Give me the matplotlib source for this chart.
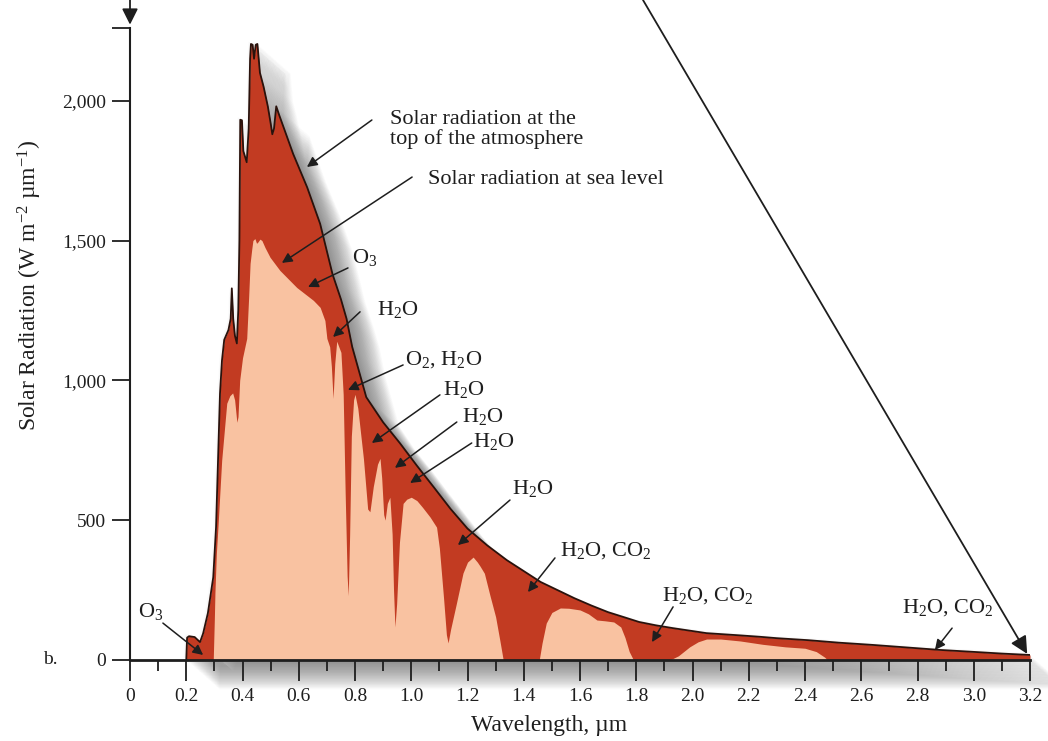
import numpy as np
import matplotlib
matplotlib.use('Agg')
import matplotlib.pyplot as plt
from matplotlib.transforms import ScaledTranslation

plt.rcParams['font.family'] = ['Liberation Serif', 'DejaVu Serif']
plt.rcParams['mathtext.fontset'] = 'custom'
plt.rcParams['mathtext.rm'] = 'Liberation Serif'
plt.rcParams['mathtext.it'] = 'Liberation Serif:italic'
plt.rcParams['mathtext.bf'] = 'Liberation Serif:bold'

# ---------------- data ----------------
wl_toa = [0.20, 0.203, 0.21, 0.23, 0.249, 0.26, 0.277, 0.296, 0.306, 0.313, 0.32,
          0.327, 0.335, 0.35, 0.358, 0.362, 0.367, 0.373, 0.38, 0.385, 0.389,
          0.392, 0.398, 0.403, 0.415, 0.422, 0.427, 0.43, 0.436, 0.441, 0.447,
          0.453, 0.462, 0.475, 0.49, 0.50, 0.506, 0.512, 0.52, 0.53, 0.58, 0.63,
          0.676, 0.72, 0.75, 0.77, 0.79, 0.84, 0.90, 0.96, 1.02, 1.08, 1.14,
          1.20, 1.27, 1.34, 1.40, 1.46, 1.52, 1.58, 1.64, 1.70, 1.76, 1.81,
          1.87, 1.93, 2.05, 2.17, 2.24, 2.30, 2.41, 2.52, 2.64, 2.76, 2.88,
          3.00, 3.10, 3.20]
toa = [0, 80, 85, 82, 64, 95, 168, 296, 476, 714, 953,
       1071, 1145, 1180, 1220, 1329, 1220, 1160, 1132, 1250, 1500,
       1932, 1930, 1820, 1780, 1900, 2150, 2203, 2200, 2150, 2200,
       2203, 2100, 2050, 1980, 1920, 1880, 1900, 1980, 1950, 1810, 1690,
       1560, 1380, 1290, 1220, 1120, 940, 850, 775, 695, 618, 540,
       470, 410, 357, 318, 279, 250, 221, 195, 171, 152, 136,
       124, 114, 96, 88, 83, 78, 71, 62, 54, 45, 36,
       29, 23, 18]

wl_sea = [0.296, 0.30, 0.302, 0.307, 0.313, 0.326, 0.344, 0.355, 0.365, 0.372,
          0.38, 0.384, 0.39, 0.40, 0.415, 0.422, 0.427, 0.433, 0.437, 0.444,
          0.45, 0.455, 0.462, 0.469, 0.48, 0.498, 0.533, 0.593, 0.652, 0.676,
          0.693, 0.70, 0.71, 0.716, 0.722, 0.728, 0.735, 0.75, 0.758, 0.765,
          0.772, 0.776, 0.781, 0.787, 0.795, 0.80, 0.81, 0.83, 0.845, 0.853,
          0.865, 0.88, 0.889, 0.895, 0.902, 0.907, 0.915, 0.924, 0.932, 0.937,
          0.942, 0.948, 0.958, 0.971, 0.984, 1.00, 1.02, 1.04, 1.067, 1.09,
          1.10, 1.115, 1.125, 1.131, 1.14, 1.16, 1.184, 1.20, 1.22, 1.235,
          1.245, 1.26, 1.28, 1.30, 1.315, 1.327, 1.455, 1.465, 1.48, 1.50,
          1.53, 1.56, 1.60, 1.63, 1.66, 1.69, 1.72, 1.745, 1.76, 1.775,
          1.79, 1.92, 1.95, 1.99, 2.02, 2.05, 2.10, 2.17, 2.25, 2.33,
          2.40, 2.44, 2.47, 2.48]
sea = [0, 150, 240, 380, 480, 714, 918, 945, 955, 930,
       850, 870, 1000, 1080, 1150, 1300, 1418, 1470, 1500, 1507,
       1490, 1495, 1505, 1500, 1475, 1440, 1393, 1332, 1286, 1261,
       1214, 1150, 1120, 1050, 935, 1060, 1140, 1100, 950, 600,
       300, 230, 450, 800, 930, 950, 900, 720, 540, 530,
       620, 700, 721, 650, 520, 500, 560, 582, 450, 250,
       118, 200, 420, 560, 575, 582, 570, 546, 511, 475,
       400, 220, 90, 61, 110, 200, 311, 350, 368, 350,
       335, 310, 230, 154, 70, 0, 0, 60, 132, 170,
       186, 185, 179, 165, 143, 140, 136, 118, 80, 30,
       0, 0, 15, 47, 65, 75, 75, 68, 56, 47,
       42, 30, 10, 0]

xticks_major = [0, 0.2, 0.4, 0.6, 0.8, 1.0, 1.2, 1.4, 1.6, 1.8, 2.0, 2.2, 2.4,
                2.6, 2.8, 3.0, 3.2]
xtick_labels = ['0', '0.2', '0.4', '0.6', '0.8', '1.0', '1.2', '1.4', '1.6', '1.8',
                '2.0', '2.2', '2.4', '2.6', '2.8', '3.0', '3.2']
xticks_minor = [0.1, 0.3, 0.5, 0.7, 0.9, 1.1, 1.3, 1.5, 1.7, 1.9, 2.1, 2.3, 2.5,
                2.7, 2.9, 3.1]
yticks = [0, 500, 1000, 1500, 2000, 2260]
ytick_labels = ['0', '500', '1,000', '1,500', '2,000', '']

labels = ['Solar radiation at the\ntop of the atmosphere',
          'Solar radiation at sea level',
          r'O$_3$', r'H$_2$O', r'O$_2$, H$_2$O', r'H$_2$O', r'H$_2$O', r'H$_2$O',
          r'H$_2$O', r'H$_2$O, CO$_2$', r'H$_2$O, CO$_2$', r'H$_2$O, CO$_2$',
          r'O$_3$']

# ---------------- layout ----------------
text_pos = [(0.924, 1897), (1.06, 1717), (0.79, 1438), (0.878, 1252),
            (0.978, 1073), (1.113, 966), (1.18, 869), (1.22, 780),
            (1.358, 615), (1.529, 393), (1.892, 232), (2.745, 186), (0.03, 172)]
arrow_from = [(0.86, 1931), (1.003, 1727), (0.775, 1402), (0.818, 1245),
              (0.971, 1055), (1.102, 948), (1.162, 851), (1.215, 776),
              (1.351, 572), (1.511, 365), (1.931, 190), (2.923, 114), (0.117, 132)]
arrow_to = [(0.629, 1763), (0.54, 1420), (0.633, 1334), (0.722, 1155),
            (0.775, 966), (0.86, 776), (0.942, 687), (0.996, 633),
            (1.166, 411), (1.415, 243), (1.856, 64), (2.862, 36), (0.26, 18)]

DARK = '#C23B22'
PEACH = '#F9C2A1'
INK = '#1e1e1e'

W, H = 1048, 741
fig = plt.figure(figsize=(W / 100, H / 100), dpi=100)
ax = fig.add_axes([130 / W, (H - 660) / H, 900 / W, 632 / H])
ax.set_xlim(0, 3.2)
ax.set_ylim(0, 2260)

# soft drop shadow of the top-of-atmosphere shape
sx = np.concatenate([[0.0], wl_toa, [3.2]])
sy = np.concatenate([[0.0], toa, [0.0]])
for k in range(-3, 40):
    off = ScaledTranslation(k * 0.85 / 100, -k * 0.75 / 100, fig.dpi_scale_trans)
    ax.fill(sx, sy, color='#5a5a5a', alpha=0.024, lw=0,
            transform=ax.transData + off, zorder=1, clip_on=False)

ax.fill_between(wl_toa, toa, 0, color=DARK, lw=0, zorder=2)
ax.fill_between(wl_sea, sea, 0, color=PEACH, lw=0, zorder=3)
ax.plot(wl_toa, toa, color='#2a120c', lw=1.3, zorder=4, solid_joinstyle='round')

for s in ['top', 'right']:
    ax.spines[s].set_visible(False)
for s in ['left', 'bottom']:
    ax.spines[s].set_color(INK)
    ax.spines[s].set_zorder(6)
ax.spines['left'].set_linewidth(1.5)
ax.spines['bottom'].set_linewidth(2.0)

ax.set_xticks(xticks_major)
ax.set_xticklabels(xtick_labels)
ax.set_xticks(xticks_minor, minor=True)
ax.set_yticks(yticks)
ax.set_yticklabels(ytick_labels)
ax.tick_params(axis='x', which='major', direction='out', length=15, width=1.3,
               colors=INK, labelsize=14, pad=5)
ax.tick_params(axis='x', which='minor', direction='out', length=8, width=1.3,
               colors=INK)
ax.tick_params(axis='y', which='major', direction='out', length=13, width=1.3,
               colors=INK, labelsize=14, pad=4)

# annotations
for lab, tp, a0, a1 in zip(labels, text_pos, arrow_from, arrow_to):
    ax.text(tp[0], tp[1], lab, fontsize=16, color=INK, ha='left', va='center',
            linespacing=1.0, zorder=7)
    ax.annotate('', xy=a1, xytext=a0,
                arrowprops=dict(arrowstyle='-|>', color=INK, lw=1.1,
                                mutation_scale=15, shrinkA=0, shrinkB=0),
                zorder=7)

# arrows coming from outside the panel
ax.annotate('', xy=(3.19, 22), xytext=(1.824, 2360), annotation_clip=False,
            arrowprops=dict(arrowstyle='-|>', color=INK, lw=1.3,
                            mutation_scale=26, shrinkA=0, shrinkB=0))
ax.annotate('', xy=(0, 2272), xytext=(0, 2365), annotation_clip=False,
            arrowprops=dict(arrowstyle='-|>', color=INK, lw=1.3,
                            mutation_scale=24, shrinkA=0, shrinkB=0))

fig.text(43 / W, 1 - 660 / H, 'b.', fontsize=14, color=INK, ha='left', va='center')
fig.text(30 / W, 1 - 285 / H, 'Solar Radiation (W m$^{-2}$ \u00b5m$^{-1}$)',
         fontsize=17, color=INK, rotation=90, ha='center', va='center')
fig.text(549 / W, 1 - 726 / H, 'Wavelength, \u00b5m', fontsize=17, color=INK,
         ha='center', va='center')

fig.savefig('out.png', dpi=100)
